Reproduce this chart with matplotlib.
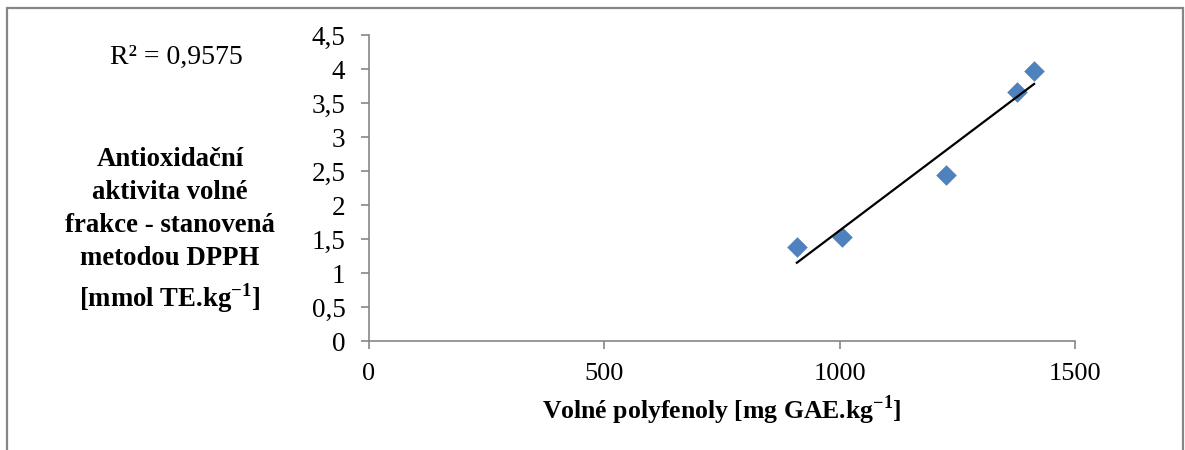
import matplotlib
matplotlib.use("Agg")
import matplotlib.pyplot as plt
import matplotlib.ticker as mticker
from matplotlib.patches import Rectangle
import numpy as np

# Data
polyphenols = [909, 1005, 1226, 1377, 1413]
dpph_activity = [1.38, 1.53, 2.44, 3.66, 3.97]

x_ticks = [0, 500, 1000, 1500]
y_ticks = [0, 0.5, 1, 1.5, 2, 2.5, 3, 3.5, 4, 4.5]
y_tick_labels = ["0", "0,5", "1", "1,5", "2", "2,5", "3", "3,5", "4", "4,5"]

r2_label = "R² = 0,9575"
x_label = r"Volné polyfenoly [mg GAE.kg$^{\mathbf{-1}}$]"
y_label = "Antioxidační\naktivita volné\nfrakce - stanovená\nmetodou DPPH\n" + r"[mmol TE.kg$^{\mathbf{-1}}$]"


def main() -> None:
    plt.rcParams["font.family"] = ["Liberation Serif", "DejaVu Serif"]
    plt.rcParams["mathtext.fontset"] = "custom"
    plt.rcParams["mathtext.rm"] = "Liberation Serif"
    plt.rcParams["mathtext.bf"] = "Liberation Serif:bold"

    fig = plt.figure(figsize=(11.85, 4.5), dpi=100)
    ax = fig.add_axes([0.3114, 0.2422, 0.5958, 0.68])

    axis_color = "#868686"

    ax.scatter(polyphenols, dpph_activity, marker="D", s=110, color="#4F81BD",
               zorder=3, linewidths=0)

    # linear trend line (Excel style)
    slope, intercept = np.polyfit(polyphenols, dpph_activity, 1)
    xs = np.array([min(polyphenols), max(polyphenols)])
    ax.plot(xs, slope * xs + intercept, color="black", linewidth=1.6, zorder=4)

    ax.set_xlim(0, 1500)
    ax.set_ylim(0, 4.5)
    ax.set_xticks(x_ticks)
    ax.set_yticks(y_ticks)
    ax.set_yticklabels(y_tick_labels)
    ax.xaxis.set_major_formatter(mticker.FuncFormatter(lambda v, p: f"{v:.0f}"))

    for side in ("top", "right"):
        ax.spines[side].set_visible(False)
    for side in ("left", "bottom"):
        ax.spines[side].set_color(axis_color)
        ax.spines[side].set_linewidth(1.2)

    ax.tick_params(axis="both", direction="out", length=6, width=1.2,
                   color=axis_color, labelcolor="black")
    ax.tick_params(axis="y", pad=11, labelsize=19.5)
    ax.tick_params(axis="x", pad=10, labelsize=19)

    ax.set_xlabel(x_label, fontsize=18.5, fontweight="bold", labelpad=6)

    fig.text(0.1435, 0.487, y_label, fontsize=19.3, fontweight="bold",
             ha="center", va="center", linespacing=1.42)
    fig.text(0.1485, 0.873, r2_label, fontsize=20, ha="center", va="center")

    # chart area border
    fig.patches.append(Rectangle((7 / 1185, -0.05), 1176 / 1185, 1.05 - 8 / 450,
                                 transform=fig.transFigure, fill=False,
                                 edgecolor=axis_color, linewidth=1.6))

    fig.savefig("out.png", dpi=100, facecolor="white")


if __name__ == "__main__":
    main()
